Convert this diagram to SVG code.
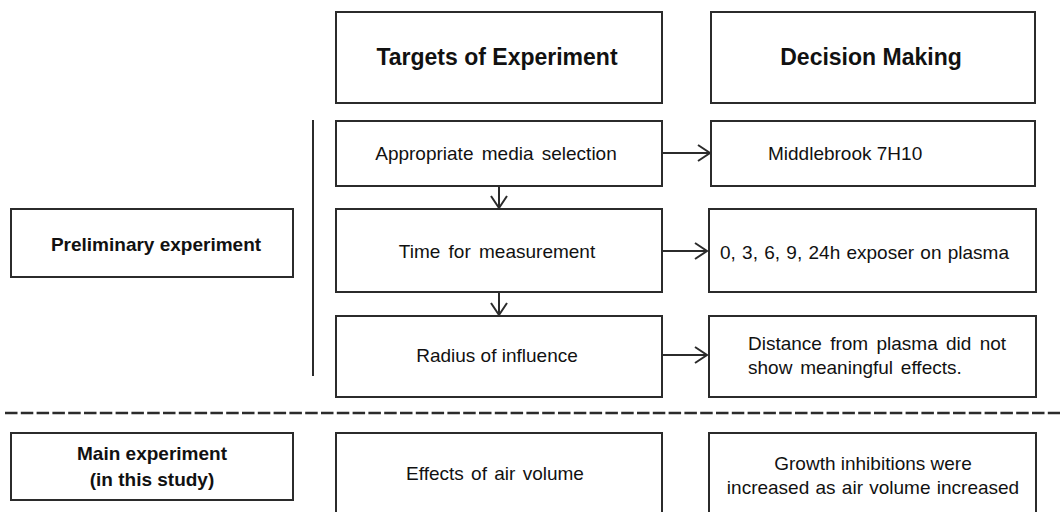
<svg xmlns="http://www.w3.org/2000/svg" width="1060" height="512" viewBox="0 0 1060 512">
  <style>
    .box { fill: #ffffff; stroke: #2b2b2b; stroke-width: 2; }
    .t { font-family: "Liberation Sans", Arial, sans-serif; font-size: 19px; fill: #111; }
    .b { font-family: "Liberation Sans", Arial, sans-serif; font-weight: bold; fill: #111; }
    .h { font-size: 23px; }
    .s { font-size: 19px; }
    .c { text-anchor: middle; }
    .ln { stroke: #2b2b2b; stroke-width: 2; fill: none; }
  </style>
  <defs>
    <marker id="arr" markerUnits="userSpaceOnUse" viewBox="-15 -10 17 20" markerWidth="17" markerHeight="20" refX="0" refY="0" orient="auto">
      <path d="M-12,-8 L0,0 L-12,8" fill="none" stroke="#2b2b2b" stroke-width="2"/>
    </marker>
  </defs>
  <rect width="1060" height="512" fill="#ffffff"/>

  <g id="header-targets">
    <rect class="box" x="336" y="12" width="326" height="91"/>
    <text class="b h c" x="497" y="65">Targets of Experiment</text>
  </g>
  <g id="header-decision">
    <rect class="box" x="711" y="12" width="324" height="91"/>
    <text class="b h c" x="871" y="65">Decision Making</text>
  </g>

  <g id="preliminary">
    <rect class="box" x="11" y="209" width="282" height="68"/>
    <text class="b s c" x="156" y="251">Preliminary experiment</text>
  </g>
  <g id="main-experiment">
    <rect class="box" x="11" y="433" width="282" height="67"/>
    <text class="b s c" x="152" y="460">Main experiment</text>
    <text class="b s c" x="152" y="486">(in this study)</text>
  </g>

  <g id="media-selection">
    <rect class="box" x="336" y="121" width="326" height="65"/>
    <text class="t c" x="496" y="160" word-spacing="3">Appropriate media selection</text>
  </g>
  <g id="middlebrook">
    <rect class="box" x="711" y="121" width="324" height="65"/>
    <text class="t" x="768" y="160">Middlebrook 7H10</text>
  </g>

  <g id="time-measurement">
    <rect class="box" x="336" y="209" width="326" height="83"/>
    <text class="t c" x="497" y="258" word-spacing="3">Time for measurement</text>
  </g>
  <g id="exposure">
    <rect class="box" x="709" y="209" width="327" height="83"/>
    <text class="t" x="720" y="259" word-spacing="1">0, 3, 6, 9, 24h exposer on plasma</text>
  </g>

  <g id="radius">
    <rect class="box" x="336" y="316" width="326" height="81"/>
    <text class="t c" x="497" y="362">Radius of influence</text>
  </g>
  <g id="distance">
    <rect class="box" x="709" y="316" width="327" height="81"/>
    <text class="t" x="748" y="350" word-spacing="3">Distance from plasma did not</text>
    <text class="t" x="748" y="374" word-spacing="2.5">show meaningful effects.</text>
  </g>

  <g id="air-volume">
    <rect class="box" x="336" y="433" width="326" height="90"/>
    <text class="t c" x="495" y="480" word-spacing="2">Effects of air volume</text>
  </g>
  <g id="growth">
    <rect class="box" x="709" y="433" width="327" height="90"/>
    <text class="t c" x="873" y="470">Growth inhibitions were</text>
    <text class="t c" x="873" y="494" word-spacing="1">increased as air volume increased</text>
  </g>

  <g id="connectors">
    <line class="ln" x1="662" y1="153" x2="710" y2="153" marker-end="url(#arr)"/>
    <line class="ln" x1="662" y1="251" x2="707" y2="251" marker-end="url(#arr)"/>
    <line class="ln" x1="662" y1="355" x2="707" y2="355" marker-end="url(#arr)"/>
    <line class="ln" x1="499" y1="186" x2="499" y2="208" marker-end="url(#arr)"/>
    <line class="ln" x1="499" y1="292" x2="499" y2="315" marker-end="url(#arr)"/>
    <line class="ln" x1="313" y1="120" x2="313" y2="376"/>
    <line x1="5" y1="413" x2="1060" y2="413" stroke="#2b2b2b" stroke-width="2.5" stroke-dasharray="12.5 3.3"/>
  </g>
</svg>
